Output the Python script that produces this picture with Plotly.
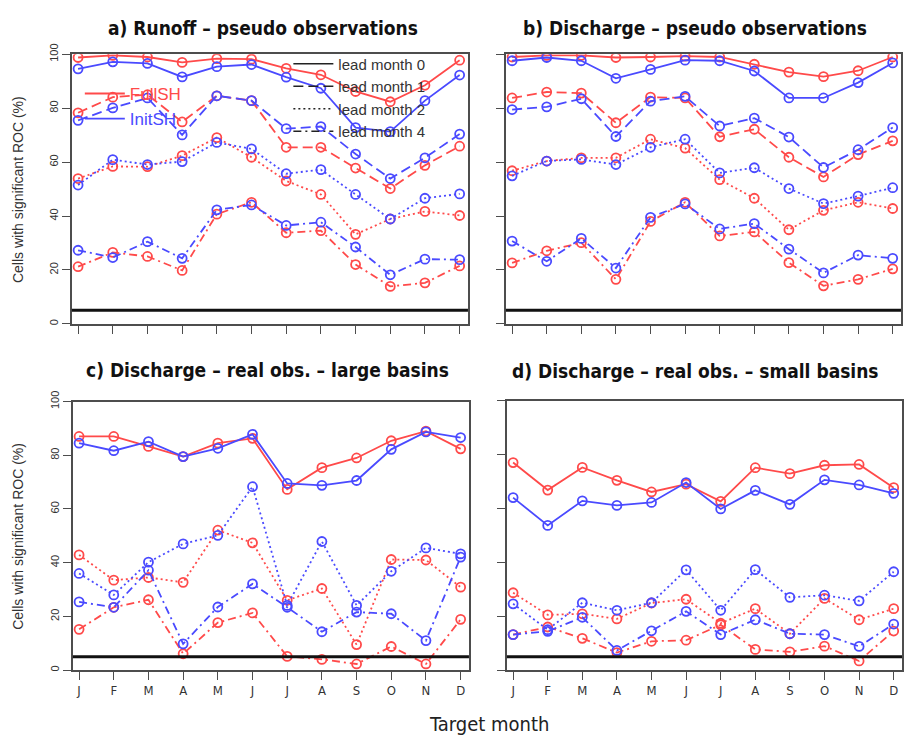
import plotly.graph_objects as go

# ---------------------------------------------------------------- data
months = ["J", "F", "M", "A", "M", "J", "J", "A", "S", "O", "N", "D"]
month_idx = list(range(1, 13))
y_ticks = [0, 20, 40, 60, 80, 100]
significance_level = 5  # % of cells expected by chance

# a) Runoff - pseudo observations   (rows: lead month 0, 1, 2, 4)
runoff_fullsh = [
    [98.8, 99.6, 99.0, 97.0, 98.4, 98.2, 94.8, 92.4, 86.2, 82.4, 88.5, 97.8],
    [78.3, 84.1, 85.0, 74.9, 84.6, 82.8, 65.5, 65.5, 57.8, 50.2, 58.8, 65.9],
    [53.9, 58.4, 58.3, 62.4, 69.1, 61.8, 53.0, 48.0, 33.2, 38.9, 41.7, 40.2],
    [21.2, 26.5, 25.0, 19.8, 40.7, 45.1, 33.8, 34.6, 22.0, 13.9, 15.2, 21.5],
]
runoff_initsh = [
    [94.6, 97.2, 96.6, 91.6, 95.4, 96.2, 91.5, 87.4, 72.8, 71.3, 82.8, 92.3],
    [75.5, 80.1, 83.8, 70.1, 84.6, 82.8, 72.4, 73.2, 63.0, 53.9, 61.6, 70.4],
    [51.5, 60.9, 59.1, 60.2, 67.3, 64.9, 55.7, 57.2, 48.0, 38.9, 46.6, 48.2],
    [27.3, 24.6, 30.5, 24.3, 42.3, 44.1, 36.5, 37.7, 28.5, 18.2, 24.0, 23.8],
]

# b) Discharge - pseudo observations   (rows: lead month 0, 1, 2, 4)
discharge_fullsh = [
    [99.0, 99.6, 99.6, 98.8, 99.0, 99.3, 99.0, 96.3, 93.4, 91.7, 93.9, 99.0],
    [83.8, 86.0, 85.6, 74.6, 84.1, 83.8, 69.4, 72.2, 61.8, 54.5, 62.8, 67.9],
    [56.8, 60.4, 61.6, 61.6, 68.5, 65.2, 53.5, 46.6, 34.9, 42.1, 45.1, 42.8],
    [22.6, 27.1, 30.1, 16.5, 38.0, 45.1, 32.6, 34.1, 22.7, 14.1, 16.5, 20.4],
]
discharge_initsh = [
    [97.6, 98.8, 97.6, 91.1, 94.4, 97.8, 97.6, 93.8, 83.8, 83.8, 89.5, 96.8],
    [79.5, 80.5, 83.5, 69.5, 82.6, 84.4, 73.4, 76.3, 69.3, 58.0, 64.6, 72.8],
    [54.9, 60.4, 61.0, 59.1, 65.5, 68.5, 56.0, 57.9, 50.2, 44.6, 47.4, 50.5],
    [30.7, 23.2, 31.7, 20.7, 39.5, 44.5, 35.2, 37.2, 27.7, 18.9, 25.5, 24.3],
]

# c) Discharge - real obs. - large basins   (rows: lead month 0, 2, 4)
large_fullsh = [
    [87.0, 87.0, 83.3, 79.5, 84.5, 86.3, 67.3, 75.4, 79.0, 85.4, 89.0, 82.4],
    [42.9, 33.5, 34.5, 32.7, 52.1, 47.4, 26.0, 30.4, 9.5, 41.2, 41.0, 30.9],
    [15.2, 23.4, 26.2, 6.1, 17.7, 21.3, 5.1, 4.0, 2.3, 8.8, 2.3, 18.9],
]
large_initsh = [
    [84.5, 81.7, 85.1, 79.5, 82.6, 87.8, 69.5, 68.8, 70.6, 82.2, 88.7, 86.6],
    [36.0, 28.0, 40.2, 47.0, 50.2, 68.3, 24.1, 47.9, 24.1, 36.8, 45.5, 43.3],
    [25.4, 23.4, 37.2, 9.8, 23.5, 32.1, 23.4, 14.3, 21.6, 21.0, 11.0, 42.1],
]

# d) Discharge - real obs. - small basins   (rows: lead month 0, 2, 4)
small_fullsh = [
    [77.0, 66.8, 75.2, 70.4, 66.1, 69.0, 62.6, 75.1, 72.9, 76.0, 76.3, 67.7],
    [28.7, 20.5, 20.9, 19.0, 24.9, 26.3, 17.4, 22.8, 13.5, 26.6, 18.7, 22.8],
    [13.2, 16.0, 11.8, 6.5, 10.7, 11.1, 16.8, 7.7, 6.8, 8.9, 3.4, 14.5],
]
small_initsh = [
    [64.0, 53.7, 62.8, 61.1, 62.2, 69.6, 59.8, 66.7, 61.5, 70.6, 68.7, 65.6],
    [24.6, 15.0, 25.0, 22.2, 25.0, 37.2, 22.2, 37.3, 27.0, 27.8, 25.7, 36.5],
    [13.2, 14.4, 19.6, 7.3, 14.6, 21.8, 13.2, 18.7, 13.5, 13.2, 8.8, 17.1],
]

lead_names = ["lead month 0", "lead month 1", "lead month 2", "lead month 4"]
experiments = ["FullSH", "InitSH"]

# ---------------------------------------------------------------- styling
W, H = 904, 740
RED = "#ff4a4a"
BLUE = "#4a4aff"
AXIS = "#4d4d4d"
TEXT = "#333333"
DASH = {
    "lead month 0": "solid",
    "lead month 1": "10px,5px",
    "lead month 2": "2px,3px",
    "lead month 4": "8px,4px,2px,4px",
}
NARROW = "DejaVu Sans Condensed, Liberation Sans Narrow, Arial Narrow, sans-serif"
SANS = "Liberation Sans, Arial, sans-serif"

panels = [
    dict(title="a) Runoff – pseudo observations", box=(72, 469, 44, 318),
         full=runoff_fullsh, init=runoff_initsh, leads=lead_names,
         ylab=True, xlab=False, title_xy=(264, 17)),
    dict(title="b) Discharge – pseudo observations", box=(507, 903, 44, 318),
         full=discharge_fullsh, init=discharge_initsh, leads=lead_names,
         ylab=False, xlab=False, title_xy=(697, 17)),
    dict(title="c) Discharge – real obs. – large basins", box=(73, 470, 397, 670),
         full=large_fullsh, init=large_initsh,
         leads=[lead_names[0], lead_names[2], lead_names[3]],
         ylab=True, xlab=True, title_xy=(268, 365)),
    dict(title="d) Discharge – real obs. – small basins", box=(508, 906, 396, 670),
         full=small_fullsh, init=small_initsh,
         leads=[lead_names[0], lead_names[2], lead_names[3]],
         ylab=False, xlab=True, title_xy=(697, 366)),
]

fig = go.Figure()
annotations = []
shapes = []

for i, p in enumerate(panels):
    suffix = "" if i == 0 else str(i + 1)
    xref, yref = "x" + suffix, "y" + suffix
    left, right, top, bottom = p["box"]

    for exp_name, rows, colour in (("FullSH", p["full"], RED), ("InitSH", p["init"], BLUE)):
        for lead, vals in zip(p["leads"], rows):
            fig.add_trace(go.Scatter(
                x=month_idx, y=vals, xaxis=xref, yaxis=yref,
                mode="lines+markers", showlegend=False,
                name=f"{exp_name}, {lead}",
                line=dict(color=colour, width=1.8, dash=DASH[lead]),
                marker=dict(symbol="circle-open", size=9, color=colour,
                            line=dict(width=1.8, color=colour)),
            ))

    fig.layout["xaxis" + suffix] = dict(
        domain=[left / W, min(right / W, 1.0)], anchor=yref,
        range=[0.82, 12.24], tickmode="array", tickvals=month_idx, ticktext=months,
        showticklabels=p["xlab"], ticks="outside", ticklen=8, tickwidth=1.2,
        tickcolor=AXIS, showline=True, mirror=True, linecolor=AXIS, linewidth=1.5,
        showgrid=False, zeroline=False,
        tickfont=dict(family=NARROW, size=13, color=TEXT),
    )
    fig.layout["yaxis" + suffix] = dict(
        domain=[1 - bottom / H, 1 - top / H], anchor=xref,
        range=[0, 100], tickmode="array", tickvals=y_ticks,
        showticklabels=p["ylab"], tickangle=-90, ticks="outside", ticklen=8,
        tickwidth=1.2, tickcolor=AXIS, showline=True, mirror=True,
        linecolor=AXIS, linewidth=1.5, showgrid=False, zeroline=False,
        tickfont=dict(family=SANS, size=11, color=TEXT),
    )

    # significance threshold across the whole panel
    shapes.append(dict(type="line", xref=xref + " domain", x0=0, x1=1,
                       yref=yref, y0=significance_level, y1=significance_level,
                       line=dict(color="#111111", width=3), layer="above"))

    tx, ty = p["title_xy"]
    annotations.append(dict(text=f"<b>{p['title']}</b>", xref="paper", yref="paper",
                            x=tx / W, y=1 - ty / H, xanchor="center", yanchor="middle",
                            showarrow=False, font=dict(family=NARROW, size=19, color="#111111")))

    if p["ylab"]:
        annotations.append(dict(text="Cells with significant ROC (%)", xref="paper",
                                yref="paper", x=18 / W, y=1 - (top + bottom) / 2 / H,
                                xanchor="center", yanchor="middle", textangle=-90,
                                showarrow=False, font=dict(family=SANS, size=14, color=TEXT)))

annotations.append(dict(text="Target month", xref="paper", yref="paper",
                        x=490 / W, y=1 - 725 / H, xanchor="center", yanchor="middle",
                        showarrow=False, font=dict(family=NARROW, size=20, color="#222222")))

# legend entries (line styles for lead times, colours for experiments)
for lead in lead_names:
    fig.add_trace(go.Scatter(x=[None], y=[None], mode="lines", name=lead,
                             legend="legend",
                             line=dict(color="#222222", width=1.5, dash=DASH[lead])))
for exp_name, colour in zip(experiments, (RED, BLUE)):
    fig.add_trace(go.Scatter(x=[None], y=[None], mode="lines",
                             name=f"<span style='color:{colour}'>{exp_name}</span>",
                             legend="legend2",
                             line=dict(color=colour, width=1.8)))

fig.update_layout(
    width=W, height=H, margin=dict(l=0, r=0, t=0, b=0),
    paper_bgcolor="white", plot_bgcolor="white",
    showlegend=True,
    legend=dict(x=289 / W, y=1 - 37 / H, xanchor="left", yanchor="top",
                bgcolor="rgba(0,0,0,0)", font=dict(family=SANS, size=15, color=TEXT),
                itemwidth=40, tracegroupgap=0),
    legend2=dict(x=80 / W, y=1 - 66 / H, xanchor="left", yanchor="top",
                 bgcolor="rgba(0,0,0,0)", font=dict(family=SANS, size=17),
                 itemwidth=40, tracegroupgap=0),
    annotations=annotations, shapes=shapes,
)

fig.write_html("out.html")
